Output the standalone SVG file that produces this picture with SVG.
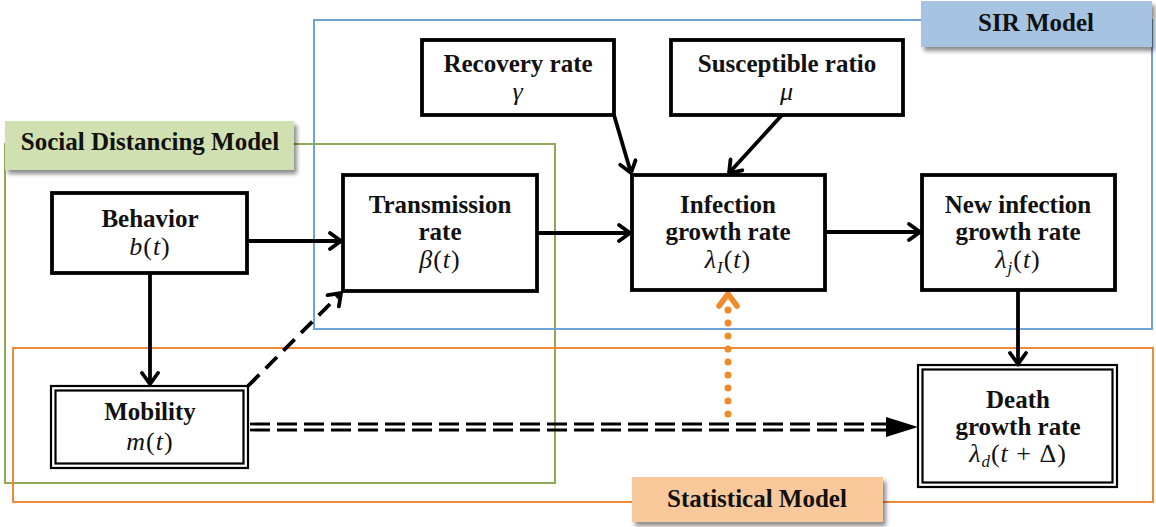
<svg xmlns="http://www.w3.org/2000/svg" width="1156" height="527" viewBox="0 0 1156 527">
<defs>
<style>
.node{fill:#fff;stroke:#000;stroke-width:3.8}
.dbl{fill:none;stroke:#000;stroke-width:2.2}
.t{font-family:"Liberation Serif","Times New Roman",serif;font-weight:bold;font-size:25px;fill:#111;text-anchor:middle}
.m{font-family:"Liberation Serif","Times New Roman",serif;font-style:italic;font-size:26px;fill:#111;text-anchor:middle;letter-spacing:1px}
.up{font-style:normal}
.lab{font-family:"Liberation Serif","Times New Roman",serif;font-weight:bold;font-size:25px;fill:#111;text-anchor:middle}
.edge{fill:none;stroke:#000;stroke-width:3.8}
.grp{fill:none;stroke-width:2}
</style>
<filter id="sh" x="-5%" y="-10%" width="115%" height="140%">
<feDropShadow dx="3" dy="4" stdDeviation="2" flood-color="#000" flood-opacity="0.45"/>
</filter>
<marker id="ah" markerUnits="userSpaceOnUse" viewBox="-14 -10 18 20" refX="0" refY="0" markerWidth="18" markerHeight="20" orient="auto">
<path d="M-11,-8 L0,0 L-11,8" fill="none" stroke="#000" stroke-width="3.8" stroke-linecap="round"/>
</marker>
<marker id="aho" markerUnits="userSpaceOnUse" viewBox="-16 -14 20 28" refX="0" refY="0" markerWidth="20" markerHeight="28" orient="auto">
<path d="M-12,-9 L0,0 L-12,9" fill="none" stroke="#f08a2a" stroke-width="5.5" stroke-linecap="round" stroke-linejoin="round"/>
</marker>
</defs>

<g id="groups">
<rect x="5" y="144" width="550" height="339" class="grp" stroke="#8faa55"/>
<rect x="13" y="348" width="1140" height="154" class="grp" stroke="#ef8a36"/>
<rect x="314" y="20" width="838" height="309" class="grp" stroke="#6fa3d8"/>
</g>

<g id="connectors">
<line x1="247" y1="241" x2="341" y2="241" class="edge" marker-end="url(#ah)"/>
<line x1="537" y1="233" x2="630" y2="233" class="edge" marker-end="url(#ah)"/>
<line x1="825" y1="232" x2="920" y2="232" class="edge" marker-end="url(#ah)"/>
<line x1="614" y1="115" x2="631" y2="173" class="edge" marker-end="url(#ah)"/>
<line x1="782" y1="115" x2="729" y2="173" class="edge" marker-end="url(#ah)"/>
<line x1="150" y1="273" x2="150" y2="384" class="edge" marker-end="url(#ah)"/>
<line x1="1018" y1="290" x2="1018" y2="364" class="edge" marker-end="url(#ah)"/>
<line x1="248" y1="386" x2="341" y2="293" class="edge" stroke-dasharray="16 9" marker-end="url(#ah)"/>
<line x1="250" y1="424" x2="888" y2="424" stroke="#000" stroke-width="2.8" stroke-dasharray="20 7"/>
<line x1="250" y1="430" x2="888" y2="430" stroke="#000" stroke-width="2.8" stroke-dasharray="20 7"/>
<path d="M886,417 L918,427 L886,437 Z" fill="#000"/>
<line x1="728" y1="414" x2="728" y2="300" stroke="#f08a2a" stroke-width="7" stroke-linecap="round" stroke-dasharray="0 13"/>
<line x1="728" y1="305" x2="728" y2="294" stroke="none" marker-end="url(#aho)"/>
</g>

<g id="node-behavior">
<rect x="52" y="193" width="195" height="80" class="node"/>
<text x="150" y="227" class="t">Behavior</text>
<text x="150" y="255" class="m">b<tspan class="up">(</tspan>t<tspan class="up">)</tspan></text>
</g>

<g id="node-mobility">
<rect x="51" y="386" width="197" height="82" class="dbl" stroke-width="2"/>
<rect x="55.5" y="390.5" width="188" height="73" class="dbl" stroke-width="2.8"/>
<text x="150" y="420" class="t">Mobility</text>
<text x="150" y="450" class="m">m<tspan class="up">(</tspan>t<tspan class="up">)</tspan></text>
</g>

<g id="node-transmission">
<rect x="343" y="175" width="194" height="116" class="node"/>
<text x="440" y="213" class="t">Transmission</text>
<text x="440" y="240" class="t">rate</text>
<text x="440" y="268" class="m">β<tspan class="up">(</tspan>t<tspan class="up">)</tspan></text>
</g>

<g id="node-recovery">
<rect x="422" y="40" width="192" height="75" class="node"/>
<text x="518" y="72" class="t">Recovery rate</text>
<text x="518" y="100" class="m">γ</text>
</g>

<g id="node-susceptible">
<rect x="671" y="40" width="232" height="75" class="node"/>
<text x="787" y="72" class="t">Susceptible ratio</text>
<text x="787" y="100" class="m">μ</text>
</g>

<g id="node-infection">
<rect x="632" y="175" width="193" height="115" class="node"/>
<text x="728" y="213" class="t">Infection</text>
<text x="728" y="240" class="t">growth rate</text>
<text x="728" y="268" class="m">λ<tspan font-size="17" dy="5">I</tspan><tspan class="up" dy="-5">(</tspan>t<tspan class="up">)</tspan></text>
</g>

<g id="node-newinfection">
<rect x="922" y="175" width="193" height="115" class="node"/>
<text x="1018" y="213" class="t">New infection</text>
<text x="1018" y="240" class="t">growth rate</text>
<text x="1018" y="268" class="m">λ<tspan font-size="17" dy="5">j</tspan><tspan class="up" dy="-5">(</tspan>t<tspan class="up">)</tspan></text>
</g>

<g id="node-death">
<rect x="918" y="365" width="199" height="122" class="dbl" stroke-width="2"/>
<rect x="922.5" y="369.5" width="190" height="113" class="dbl" stroke-width="2.8"/>
<text x="1018" y="408" class="t">Death</text>
<text x="1018" y="435" class="t">growth rate</text>
<text x="1018" y="462" class="m">λ<tspan font-size="17" dy="5">d</tspan><tspan class="up" dy="-5">(</tspan>t <tspan class="up">+ Δ)</tspan></text>
</g>

<g id="label-sir">
<rect x="921" y="1" width="231" height="46" fill="#a6c3e2" filter="url(#sh)"/>
<text x="1036" y="31" class="lab">SIR Model</text>
</g>
<g id="label-social">
<rect x="5" y="121" width="289" height="49" fill="#d1e0b0" filter="url(#sh)"/>
<text x="150" y="150" class="lab">Social Distancing Model</text>
</g>
<g id="label-statistical">
<rect x="632" y="477" width="251" height="45" fill="#f9c99c" filter="url(#sh)"/>
<text x="757" y="507" class="lab">Statistical Model</text>
</g>
</svg>
